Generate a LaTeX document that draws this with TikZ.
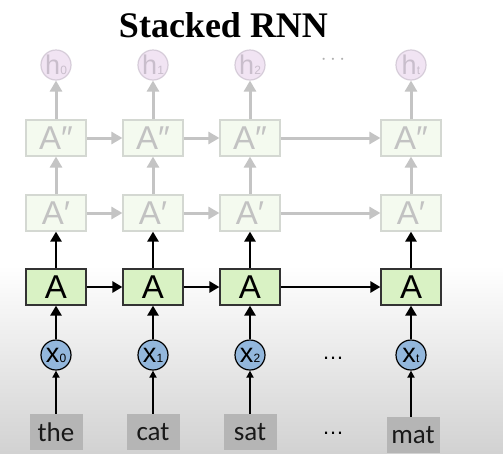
\documentclass[tikz,border=0pt]{standalone}
\usepackage{fontspec}
\setmainfont{Liberation Serif}
\newfontfamily\cellfont{Liberation Sans}
\newfontfamily\wordfont{Carlito}
\usetikzlibrary{arrows.meta, positioning}

\definecolor{cellgreen}{HTML}{D9F2C4}
\definecolor{fadegreen}{HTML}{F4FAEF}
\definecolor{fadeline}{HTML}{D4D8D2}
\definecolor{fadetext}{HTML}{C2C2C2}
\definecolor{fadearrowc}{HTML}{C4C4C4}
\definecolor{hpink}{HTML}{F1E4F3}
\definecolor{hline}{HTML}{D6CCD9}
\definecolor{htext}{HTML}{C9BECC}
\definecolor{xblue}{HTML}{93B7DC}
\definecolor{wordgray}{HTML}{B5B5B5}
\definecolor{bggray}{HTML}{D2D2D2}

\tikzset{
    cell/.style={draw=black!80, line width=1.2pt, fill=cellgreen, minimum width=60pt, minimum height=36pt, inner sep=0pt, font=\cellfont\fontsize{33}{33}\selectfont},
    fadecell/.style={cell, draw=fadeline, fill=fadegreen, text=fadetext},
    hstate/.style={circle, draw=hline, line width=1.2pt, fill=hpink, text=htext, minimum size=30pt, inner sep=0pt, font=\cellfont\fontsize{27}{27}\selectfont},
    xin/.style={circle, draw=black, line width=1.2pt, fill=xblue, minimum size=30pt, inner sep=0pt, font=\cellfont\fontsize{27}{27}\selectfont},
    word/.style={fill=wordgray, minimum width=53pt, minimum height=36pt, inner sep=0pt, font=\wordfont\fontsize{27}{27}\selectfont, text=black!90},
    blackarrow/.style={-{Triangle[width=11pt,length=10pt]}, line width=2.8pt, black},
    smallarrow/.style={-{Triangle[width=7pt,length=7pt]}, line width=2.8pt, black},
    greyarrow/.style={-{Triangle[width=12pt,length=11pt]}, line width=3pt, fadearrowc},
    dots/.style={font=\cellfont\fontsize{22}{22}\selectfont}
}
\newcommand{\subsc}[1]{\kern0.3pt{\fontsize{12}{12}\selectfont #1}}

\begin{document}
\begin{tikzpicture}[x=1pt, y=-1pt]
    \useasboundingbox (0,0) rectangle (503,453);
    % Background
    \fill[white] (0,0) rectangle (503,453);
    \shade[top color=white, bottom color=bggray] (0,265) rectangle (503,453);

    % Title
    \node[font=\bfseries\fontsize{36}{36}\selectfont, anchor=base] (title) at (223.5,37) {Stacked RNN};

    % Outputs
    \node[hstate] (h0) at (56,65) {h\subsc{0}};
    \node[hstate] (h1) at (153,65) {h\subsc{1}};
    \node[hstate] (h2) at (250,65) {h\subsc{2}};
    \node[hstate] (ht) at (411,65) {h\subsc{t}};
    \node[dots, text=fadetext!90!black] (hdots) at (333,60) {$\cdots$};

    % Top layer
    \node[fadecell] (c0) at (56,138) {A″};
    \node[fadecell] (c1) at (153,138) {A″};
    \node[fadecell] (c2) at (250,138) {A″};
    \node[fadecell] (ct) at (411,138) {A″};

    % Middle layer
    \node[fadecell] (b0) at (56,213) {A′};
    \node[fadecell] (b1) at (153,213) {A′};
    \node[fadecell] (b2) at (250,213) {A′};
    \node[fadecell] (bt) at (411,213) {A′};

    % Bottom layer
    \node[cell] (a0) at (56,287) {A};
    \node[cell] (a1) at (153,287) {A};
    \node[cell] (a2) at (250,287) {A};
    \node[cell] (at) at (411,287) {A};

    % Inputs
    \node[xin] (x0) at (56,355) {x\subsc{0}};
    \node[xin] (x1) at (153,355) {x\subsc{1}};
    \node[xin] (x2) at (250,355) {x\subsc{2}};
    \node[xin] (xt) at (411,355) {x\subsc{t}};
    \node[dots] (xdots) at (333,358) {\dots};

    % Words
    \node[word] (w0) at (56,432) {the};
    \node[word] (w1) at (153,432) {cat};
    \node[word] (w2) at (250,432) {sat};
    \node[word] (wt) at (413,435) {mat};
    \node[dots] (wdots) at (333,433) {\dots};

    % Grey connections
    \draw[greyarrow] (c0) -- (h0);
    \draw[greyarrow] (c1) -- (h1);
    \draw[greyarrow] (c2) -- (h2);
    \draw[greyarrow] (ct) -- (ht);
    \draw[greyarrow] (c0) -- (c1);
    \draw[greyarrow] (c1) -- (c2);
    \draw[greyarrow] (c2) -- (ct);
    \draw[greyarrow] (b0) -- (c0);
    \draw[greyarrow] (b1) -- (c1);
    \draw[greyarrow] (b2) -- (c2);
    \draw[greyarrow] (bt) -- (ct);
    \draw[greyarrow] (b0) -- (b1);
    \draw[greyarrow] (b1) -- (b2);
    \draw[greyarrow] (b2) -- (bt);

    % Black connections
    \draw[blackarrow] (a0) -- (b0);
    \draw[blackarrow] (a1) -- (b1);
    \draw[blackarrow] (a2) -- (b2);
    \draw[blackarrow] (at) -- (bt);
    \draw[blackarrow] (a0) -- (a1);
    \draw[blackarrow] (a1) -- (a2);
    \draw[blackarrow] (a2) -- (at);
    \draw[blackarrow] (x0) -- (a0);
    \draw[blackarrow] (x1) -- (a1);
    \draw[blackarrow] (x2) -- (a2);
    \draw[blackarrow] (xt) -- (at);
    \draw[smallarrow] (w0) -- (x0);
    \draw[smallarrow] (w1) -- (x1);
    \draw[smallarrow] (w2) -- (x2);
    \draw[smallarrow] (wt.north -| xt) -- (xt);
\end{tikzpicture}
\end{document}
